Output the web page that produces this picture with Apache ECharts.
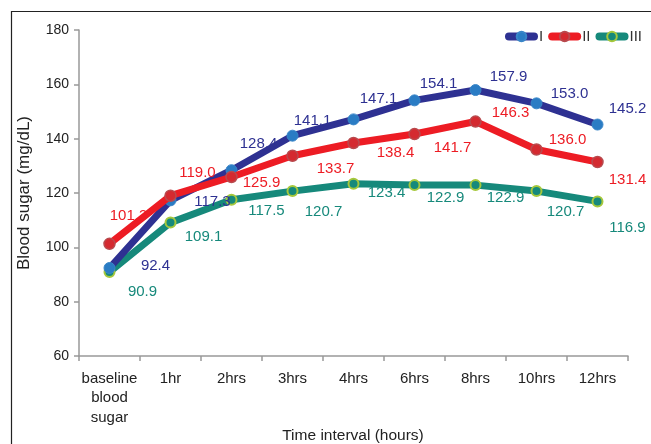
<!DOCTYPE html>
<html><head><meta charset="utf-8">
<script src="https://cdn.jsdelivr.net/npm/echarts@6/dist/echarts.min.js"></script>
<style>html,body{margin:0;padding:0;background:#fff}#c{width:651px;height:444px}</style>
</head><body><div id="c"></div>
<script>
var categories = ['baseline\nblood\nsugar', '1hr', '2hrs', '3hrs', '4hrs', '6hrs', '8hrs', '10hrs', '12hrs'];
var seriesNames = ['I', 'II', 'III'];
var valuesI = [92.4, 117.3, 128.4, 141.1, 147.1, 154.1, 157.9, 153.0, 145.2];
var valuesII = [101.3, 119.0, 125.9, 133.7, 138.4, 141.7, 146.3, 136.0, 131.4];
var valuesIII = [90.9, 109.1, 117.5, 120.7, 123.4, 122.9, 122.9, 120.7, 116.9];
var xAxisTitle = 'Time interval (hours)';
var yAxisTitle = 'Blood sugar (mg/dL)';

// label offsets (pixels) — styling only
var offI = [[46,-2],[42,2],[27,-26],[20,-15],[25,-21],[24,-17],[33,-13],[33,-9],[30,-16]];
var offII = [[19,-28],[27,-23],[30,6],[43,13],[42,10],[38,14],[35,-9],[31,-10],[30,18]];
var offIII = [[33,20],[33,14],[35,11],[31,21],[33,9],[31,13],[30,13],[29,21],[30,26]];

function build(vals, offs, labelColor) {
  return vals.map(function (v, i) {
    return { value: v, label: { offset: offs[i], color: labelColor } };
  });
}

var font = '"Liberation Sans", Arial, sans-serif';
var chart = echarts.init(document.getElementById('c'), null, { renderer: 'canvas' });
var baseLabel = { show: true, position: 'inside', fontSize: 15, fontFamily: font,
  formatter: function (p) { return p.value.toFixed(1); } };

chart.setOption({
  animation: false,
  graphic: [
    { type: 'rect', shape: { x: 11.5, y: 11.5, width: 700, height: 500 },
      style: { fill: 'none', stroke: '#222', lineWidth: 1.2 }, z: -1, silent: true },
    { type: 'text', x: 353, y: 436, silent: true,
      style: { text: xAxisTitle, align: 'center', verticalAlign: 'middle',
        fontSize: 15.5, fontFamily: font, fill: '#222' } }
  ],
  grid: { left: 79, right: 23, top: 30, bottom: 88, containLabel: false, outerBoundsMode: 'none' },
  legend: {
    right: 4, top: 24, itemWidth: 25, itemHeight: 12, itemGap: 5,
    lineStyle: { width: 8, cap: 'round' },
    textStyle: { fontSize: 15, fontFamily: font, color: '#333', padding: [0, 0, 0, 0] },
    data: seriesNames
  },
  xAxis: {
    type: 'category', data: categories, boundaryGap: true,
    axisLine: { lineStyle: { color: '#999', width: 1.5 } },
    axisTick: { show: true, length: 5, lineStyle: { color: '#999', width: 1.5 } },
    axisLabel: { fontSize: 15, fontFamily: font, color: '#222', margin: 13, lineHeight: 19.5, interval: 0 }
  },
  yAxis: {
    type: 'value', min: 60, max: 180, interval: 20,
    splitLine: { show: false },
    axisLine: { show: true, lineStyle: { color: '#999', width: 1.5 } },
    axisTick: { show: true, length: 5, lineStyle: { color: '#999', width: 1.5 } },
    axisLabel: { fontSize: 14, fontFamily: font, color: '#222', margin: 10 },
    name: yAxisTitle, nameLocation: 'middle', nameGap: 46,
    nameTextStyle: { fontSize: 17, fontFamily: font, color: '#222' }
  },
  series: [
    { name: 'I', type: 'line', data: build(valuesI, offI, '#2e3192'),
      symbol: 'circle', symbolSize: 11,
      lineStyle: { color: '#2e3192', width: 7, cap: 'round', join: 'round' },
      itemStyle: { color: '#2a7cc4', borderColor: '#3a86c8', borderWidth: 1 },
      label: baseLabel, z: 3 },
    { name: 'II', type: 'line', data: build(valuesII, offII, '#ed1c24'),
      symbol: 'circle', symbolSize: 11,
      lineStyle: { color: '#ed1c24', width: 7, cap: 'round', join: 'round' },
      itemStyle: { color: '#d42a30', borderColor: '#b84a4e', borderWidth: 1.5 },
      label: baseLabel, z: 4 },
    { name: 'III', type: 'line', data: build(valuesIII, offIII, '#16897b'),
      symbol: 'circle', symbolSize: 10,
      lineStyle: { color: '#16897b', width: 7, cap: 'round', join: 'round' },
      itemStyle: { color: '#16897b', borderColor: '#a6c83c', borderWidth: 2 },
      label: baseLabel, z: 2 }
  ]
});
</script></body></html>
